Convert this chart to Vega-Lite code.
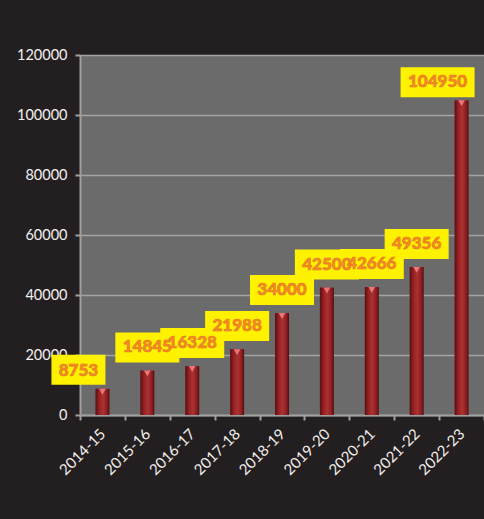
{
  "$schema": "https://vega.github.io/schema/vega-lite/v6.json",
  "width": 404,
  "height": 360,
  "autosize": {"type": "none"},
  "padding": {"left": 80, "top": 55, "right": 0, "bottom": 104},
  "background": "#231f20",
  "config": {
    "view": {"fill": "#6b6b6c", "stroke": null},
    "axis": {"labelFont": "Lato", "labelColor": "#f4f0ee"}
  },
  "data": {
    "values": [
      {"year": "2014-15", "v": 8753},
      {"year": "2015-16", "v": 14845},
      {"year": "2016-17", "v": 16328},
      {"year": "2017-18", "v": 21988},
      {"year": "2018-19", "v": 34000},
      {"year": "2019-20", "v": 42500},
      {"year": "2020-21", "v": 42666},
      {"year": "2021-22", "v": 49356},
      {"year": "2022-23", "v": 104950}
    ]
  },
  "encoding": {
    "x": {
      "field": "year", "type": "nominal", "sort": null, "title": null,
      "scale": {"paddingInner": 0, "paddingOuter": 0},
      "axis": {
        "labelAngle": -45, "labelAlign": "right", "labelBaseline": "middle", "labelFontSize": 15,
        "labelPadding": 11, "tickBand": "extent", "tickSize": 5,
        "tickColor": "#a0a0a0", "tickWidth": 2, "domainColor": "#a0a0a0", "domainWidth": 2
      }
    },
    "y": {
      "field": "v", "type": "quantitative", "title": null,
      "scale": {"domain": [0, 120000], "nice": false},
      "axis": {
        "values": [0, 20000, 40000, 60000, 80000, 100000, 120000], "labelFontSize": 14.5,
        "format": "d", "labelPadding": 8, "tickSize": 5,
        "tickColor": "#a0a0a0", "tickWidth": 2, "domainColor": "#a0a0a0", "domainWidth": 2,
        "gridColor": "#a3a3a3", "gridWidth": 1.5
      }
    }
  },
  "layer": [
    {
      "mark": {
        "type": "bar", "width": 14,
        "color": {
          "gradient": "linear", "x1": 0, "y1": 0, "x2": 1, "y2": 0,
          "stops": [
            {"offset": 0, "color": "#5c0d10"},
            {"offset": 0.3, "color": "#9a2326"},
            {"offset": 0.55, "color": "#aa3232"},
            {"offset": 0.85, "color": "#8a1b1e"},
            {"offset": 1, "color": "#4d0a0c"}
          ]
        }
      }
    },
    {
      "mark": {"type": "point", "shape": "triangle-down", "filled": true, "size": 45, "color": "#e8767a", "opacity": 1, "yOffset": 3}
    },
    {
      "transform": [{"filter": "datum.v < 10000"}],
      "mark": {"type": "bar", "width": 54, "color": "#fff200", "xOffset": -24, "yOffset": -34, "y2Offset": -4, "clip": false},
      "encoding": {"y2": {"field": "v"}}
    },
    {
      "transform": [{"filter": "datum.v >= 10000 && datum.v < 100000"}],
      "mark": {"type": "bar", "width": 64, "color": "#fff200", "xOffset": 0, "yOffset": -38, "y2Offset": -8},
      "encoding": {"y2": {"field": "v"}}
    },
    {
      "transform": [{"filter": "datum.v >= 100000"}],
      "mark": {"type": "bar", "width": 74, "color": "#fff200", "xOffset": -24, "yOffset": -33, "y2Offset": -3},
      "encoding": {"y2": {"field": "v"}}
    },
    {
      "transform": [{"filter": "datum.v >= 10000 && datum.v < 100000"}],
      "mark": {"type": "text", "font": "Lato", "fontWeight": 900, "fontSize": 17, "color": "#f58a25", "stroke": "#e57a20", "strokeWidth": 0.6, "dx": 0, "dy": -23, "baseline": "middle"},
      "encoding": {"text": {"field": "v", "type": "quantitative", "format": "d"}}
    },
    {
      "transform": [{"filter": "datum.v < 10000 || datum.v >= 100000"}],
      "mark": {"type": "text", "font": "Lato", "fontWeight": 900, "fontSize": 17, "color": "#f58a25", "stroke": "#e57a20", "strokeWidth": 0.6, "dx": -24, "dy": -18, "baseline": "middle"},
      "encoding": {"text": {"field": "v", "type": "quantitative", "format": "d"}}
    }
  ]
}
